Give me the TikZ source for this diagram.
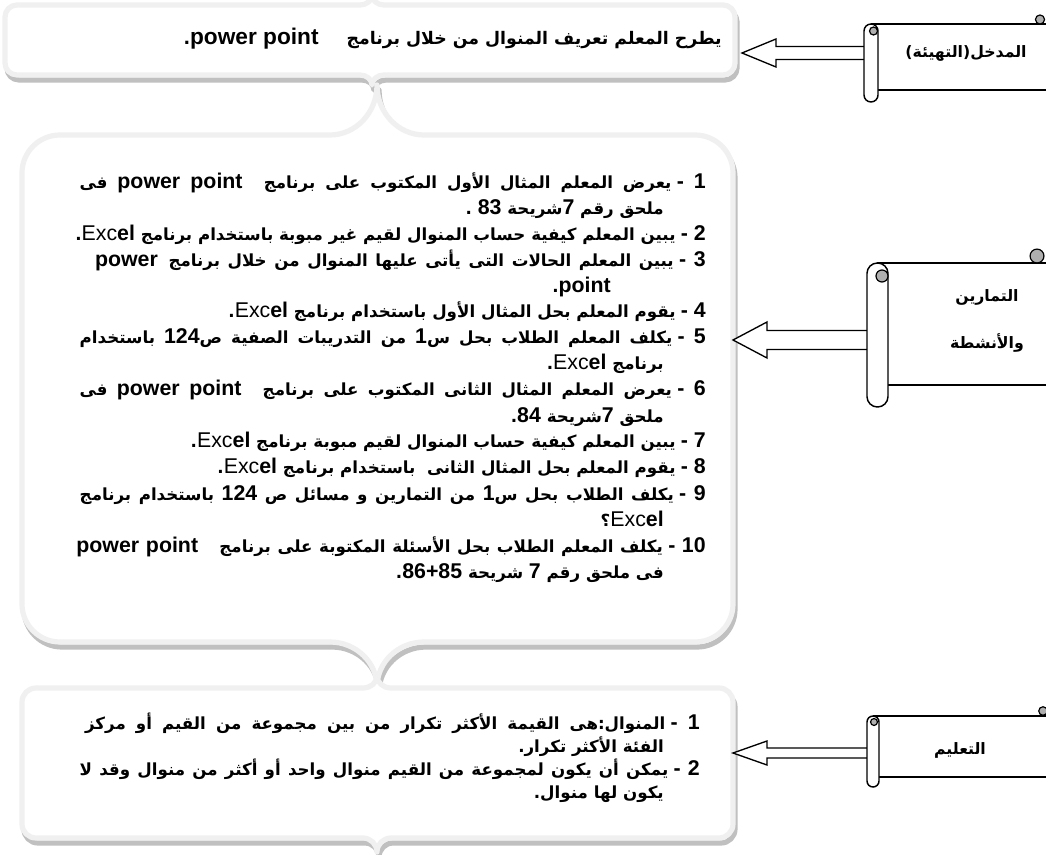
\documentclass[tikz,border=0pt]{standalone}
\usepackage{fontspec}
\usetikzlibrary{calc}
\TeXXeTstate=1
\newfontfamily\arabicfont[Script=Arabic]{DejaVu Sans}
\newfontfamily\latinfont{Liberation Sans}
\def\ltsz{16}
\newcommand{\lt}[1]{\beginL{\latinfont\bfseries\fontsize{\ltsz}{18}\selectfont #1}\endL{}}
\newcommand{\xl}{\beginL{\latinfont\fontsize{\ltsz}{18}\selectfont\mdseries Exc\bfseries el}\endL{}}
\newcommand{\num}[1]{\lt{#1}\ \lt{-}\hspace{4pt}}
% L R T B xc r ht hb a
\newcommand{\bracepath}[9]{%
 ({#1},{#3+#6}) .. controls ({#1},{#3+0.4477*#6}) and ({#1+0.4477*#6},{#3}) .. ({#1+#6},{#3})
 -- ({#5-#9},{#3}) .. controls ({#5-0.45*#9},{#3}) and ({#5},{#3-0.45*#7}) .. ({#5},{#3-#7})
 .. controls ({#5},{#3-0.45*#7}) and ({#5+0.45*#9},{#3}) .. ({#5+#9},{#3})
 -- ({#2-#6},{#3}) .. controls ({#2-0.4477*#6},{#3}) and ({#2},{#3+0.4477*#6}) .. ({#2},{#3+#6})
 -- ({#2},{#4-#6}) .. controls ({#2},{#4-0.4477*#6}) and ({#2-0.4477*#6},{#4}) .. ({#2-#6},{#4})
 -- ({#5+#9},{#4}) .. controls ({#5+0.45*#9},{#4}) and ({#5},{#4+0.45*#8}) .. ({#5},{#4+#8})
 .. controls ({#5},{#4+0.45*#8}) and ({#5-0.45*#9},{#4}) .. ({#5-#9},{#4})
 -- ({#1+#6},{#4}) .. controls ({#1+0.4477*#6},{#4}) and ({#1},{#4-0.4477*#6}) .. ({#1},{#4-#6})
 -- cycle}
\definecolor{bxl}{RGB}{240,240,240}
\definecolor{bxs}{RGB}{192,192,192}
\definecolor{curl}{RGB}{175,175,175}
\tikzset{
 bxshadow/.style={draw=bxs, line width=3.9pt, line join=round},
 bxmain/.style={draw=bxl, fill=white, line width=3.9pt, line join=round},
 scrl/.style={draw=black, line width=1.1pt},
 curlc/.style={draw=black, line width=0.9pt, fill=curl},
 blockarrow/.style={draw=black, line width=1pt, fill=white, line join=miter},
 tline/.style={font=\arabicfont\bfseries\fontsize{12.5}{16}\selectfont, inner sep=0pt, anchor=base east},
 tbig/.style={font=\arabicfont\bfseries\fontsize{13}{18}\selectfont, inner sep=0pt, anchor=base east},
 lbl/.style={font=\arabicfont\bfseries\fontsize{11.8}{14}\selectfont, inner sep=0pt, anchor=center}
}
\begin{document}
\begin{tikzpicture}[x=0.75pt, y=-0.75pt]
\useasboundingbox[fill=white] (0,0) rectangle (1046,855);

% ---------- boxes ----------
\draw[bxshadow, shift={(2,5)}] \bracepath{5}{735}{5}{75}{372}{12}{10}{10}{12};
\draw[bxmain] \bracepath{5}{735}{5}{75}{372}{12}{10}{10}{12};
\draw[bxshadow, shift={(2,5)}] \bracepath{22}{733}{135}{642}{377}{38}{50}{45}{47};
\draw[bxmain] \bracepath{22}{733}{135}{642}{377}{38}{50}{45}{47};
\draw[bxshadow, shift={(2,5)}] \bracepath{22}{733}{688}{838}{377}{14}{12}{14}{14};
\draw[bxmain] \bracepath{22}{733}{688}{838}{377}{14}{12}{14}{14};

% ---------- box 1 text ----------
\node[tbig] (t0) at (722,45) {\def\ltsz{17}\beginR يطرح المعلم تعريف المنوال من خلال برنامج\hspace{21pt}\lt{power point}.\endR};

% ---------- box 2 text ----------
\node[tline] (t1)  at (706,189) {\hbox to 469.5pt{\beginR\num{1}يعرض المعلم المثال الأول المكتوب على برنامج\hspace{16pt}\lt{power point} فى\endR}};
\node[tline] (t2)  at (664,215) {\beginR ملحق رقم \lt{7}شريحة \lt{83} .\endR};
\node[tline] (t3)  at (706,241) {\beginR\num{2}يبين المعلم كيفية حساب المنوال لقيم غير مبوبة باستخدام برنامج \xl.\endR};
\node[tline] (t4)  at (706,267) {\hbox to 458pt{\beginR\num{3}يبين المعلم الحالات التى يأتى عليها المنوال من خلال برنامج\hspace{8pt}\lt{power}\endR}};
\node[tline] (t5)  at (611,293) {\beginR\lt{point}.\endR};
\node[tline] (t6)  at (706,318) {\beginR\num{4}يقوم المعلم بحل المثال الأول باستخدام برنامج \xl.\endR};
\node[tline] (t7)  at (706,344) {\hbox to 469.5pt{\beginR\num{5}يكلف المعلم الطلاب بحل س\lt{1} من التدريبات الصفية ص\lt{124} باستخدام\endR}};
\node[tline] (t8)  at (664,370) {\beginR برنامج \xl.\endR};
\node[tline] (t9)  at (706,396) {\hbox to 469.5pt{\beginR\num{6}يعرض المعلم المثال الثانى المكتوب على برنامج\hspace{16pt}\lt{power point} فى\endR}};
\node[tline] (t10) at (664,422) {\beginR ملحق \lt{7}شريحة \lt{84}.\endR};
\node[tline] (t11) at (706,448) {\beginR\num{7}يبين المعلم كيفية حساب المنوال لقيم مبوبة برنامج \xl.\endR};
\node[tline] (t12) at (706,474) {\beginR\num{8}يقوم المعلم بحل المثال الثانى \ باستخدام برنامج \xl.\endR};
\node[tline] (t13) at (706,500) {\hbox to 469.5pt{\beginR\num{9}يكلف الطلاب بحل س\lt{1} من التمارين و مسائل ص \lt{124} باستخدام برنامج\endR}};
\node[tline] (t14) at (664,526) {\beginR\xl؟\endR};
\node[tline] (t15) at (706,552) {\hbox to 472pt{\beginR\num{10}يكلف المعلم الطلاب بحل الأسئلة المكتوبة على برنامج\hspace{16pt}\lt{power point}\endR}};
\node[tline] (t16) at (664,578) {\beginR فى ملحق رقم \lt{7} شريحة \lt{86+85}.\endR};

% ---------- box 3 text ----------
\node[tline] (u1) at (700,729) {\hbox to 461pt{\beginR\num{1}المنوال:هى القيمة الأكثر تكرار من بين مجموعة من القيم أو مركز\endR}};
\node[tline] (u2) at (664,752) {\beginR الفئة الأكثر تكرار.\endR};
\node[tline] (u3) at (700,775) {\hbox to 465pt{\beginR\num{2}يمكن أن يكون لمجموعة من القيم منوال واحد أو أكثر من منوال وقد لا\endR}};
\node[tline] (u4) at (664,798) {\beginR يكون لها منوال.\endR};

% ---------- arrow end points ----------
\coordinate (a1s) at (864,53);  \coordinate (a1t) at (742,53);
\coordinate (a2s) at (867,340); \coordinate (a2t) at (733,340);
\coordinate (a3s) at (867,753); \coordinate (a3t) at (733,753);

\draw[blockarrow] ($(a1s)+(0,-6.5)$) -- ($(a1t)+(34,-6.5)$) -- ($(a1t)+(34,-14)$) -- (a1t)
  -- ($(a1t)+(34,14)$) -- ($(a1t)+(34,6.5)$) -- ($(a1s)+(0,6.5)$);
\draw[blockarrow] ($(a2s)+(0,-9.5)$) -- ($(a2t)+(34,-9.5)$) -- ($(a2t)+(34,-18)$) -- (a2t)
  -- ($(a2t)+(34,18)$) -- ($(a2t)+(34,9.5)$) -- ($(a2s)+(0,9.5)$);
\draw[blockarrow] ($(a3s)+(0,-5)$) -- ($(a3t)+(34,-5)$) -- ($(a3t)+(34,-12)$) -- (a3t)
  -- ($(a3t)+(34,12)$) -- ($(a3t)+(34,5)$) -- ($(a3s)+(0,5)$);

% ---------- scrolls ----------
% scroll 1
\draw[scrl, fill=white] (871,24) -- (1050,24) -- (1050,90) -- (878,90);
\draw[scrl, fill=white, rounded corners=5.25pt] (864,24) rectangle (878,102);
\draw[curlc] (873.5,31) circle[radius=3pt];
\draw[curlc] (1040,19.5) circle[radius=3.4pt];
\node[lbl] (s1) at (966,53) {\beginR المدخل(التهيئة)\endR};
% scroll 2
\draw[scrl, fill=white] (877,263) -- (1050,263) -- (1050,385) -- (888,385);
\draw[scrl, fill=white, rounded corners=7.8pt] (867,263) rectangle (888,407);
\draw[curlc] (882,276) circle[radius=4.5pt];
\draw[curlc] (1037,256) circle[radius=5.2pt];
\node[lbl] (s2a) at (987,297) {\beginR التمارين\endR};
\node[lbl] (s2b) at (987,343) {\beginR والأنشطة\endR};
% scroll 3
\draw[scrl, fill=white] (873,716) -- (1050,716) -- (1050,777) -- (879,777);
\draw[scrl, fill=white, rounded corners=4.5pt] (867,716) rectangle (879,787);
\draw[curlc] (874,722) circle[radius=2.6pt];
\draw[curlc] (1043,711) circle[radius=3.2pt];
\node[lbl] (s3) at (960,750) {\beginR التعليم\endR};
\end{tikzpicture}
\end{document}
